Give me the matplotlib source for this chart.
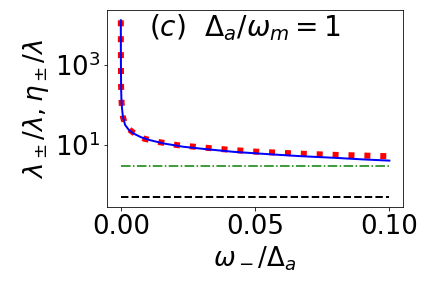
import numpy as np
import matplotlib
matplotlib.use("Agg")
import matplotlib.pyplot as plt
from matplotlib.ticker import NullLocator

# -- data
x_lam = [0.0, 0.00002, 0.00005, 0.0001, 0.0002, 0.0004, 0.0008, 0.0016, 0.003, 0.0047,
         0.0075, 0.0109, 0.016, 0.0233, 0.032, 0.042, 0.054, 0.0668, 0.08, 0.09, 0.1]
y_lam = [13300, 2500, 800, 300, 150, 88, 50, 32, 24, 19.6,
         15.8, 13.3, 11.0, 9.1, 7.9, 6.8, 6.0, 5.3, 4.8, 4.4, 4.1]

x_eta = [0.0, 0.00002, 0.00005, 0.0001, 0.0002, 0.0004, 0.0008, 0.0016, 0.003, 0.0047,
         0.0087, 0.014, 0.021, 0.03, 0.04, 0.05, 0.06, 0.07, 0.08, 0.09, 0.099]
y_eta = [13300, 2500, 800, 300, 150, 88, 50, 33, 25, 20.5,
         14.5, 12.0, 10.0, 8.8, 7.7, 6.9, 6.4, 6.0, 5.7, 5.5, 5.3]

x_flat = [0.0, 0.1]
y_green = [3.0, 3.0]
y_black = [0.5, 0.5]

FS = 26

fig = plt.figure(figsize=(6, 4), dpi=72)
ax = fig.add_axes([0.248, 0.281, 0.685, 0.684])

ax.plot(x_eta, y_eta, color="red", lw=6, linestyle=(0, (1, 1.65)))
ax.plot(x_lam, y_lam, color="blue", lw=2)
ax.plot(x_flat, y_green, color="green", lw=1.5, linestyle="-.")
ax.plot(x_flat, y_black, color="black", lw=2, linestyle="--")

ax.set_yscale("log")
ax.set_ylim(10 ** -0.55, 10 ** 4.38)
ax.set_xlim(-0.0051, 0.1051)
ax.set_yticks([10, 1000])
ax.yaxis.set_minor_locator(NullLocator())
ax.set_xticks([0.0, 0.05, 0.1])
ax.set_xticklabels(["0.00", "0.05", "0.10"])
ax.tick_params(labelsize=FS)

ax.set_xlabel(r"$\omega_-/\Delta_a$", fontsize=FS)
ax.set_ylabel(r"$\lambda_\pm/\lambda, \eta_\pm/\lambda$", fontsize=FS)
ax.text(0.14, 0.99, r"$(c)\ \ \Delta_a/\omega_m=1$", transform=ax.transAxes,
        fontsize=28, va="top", ha="left")

fig.savefig("out.png", dpi=72)
